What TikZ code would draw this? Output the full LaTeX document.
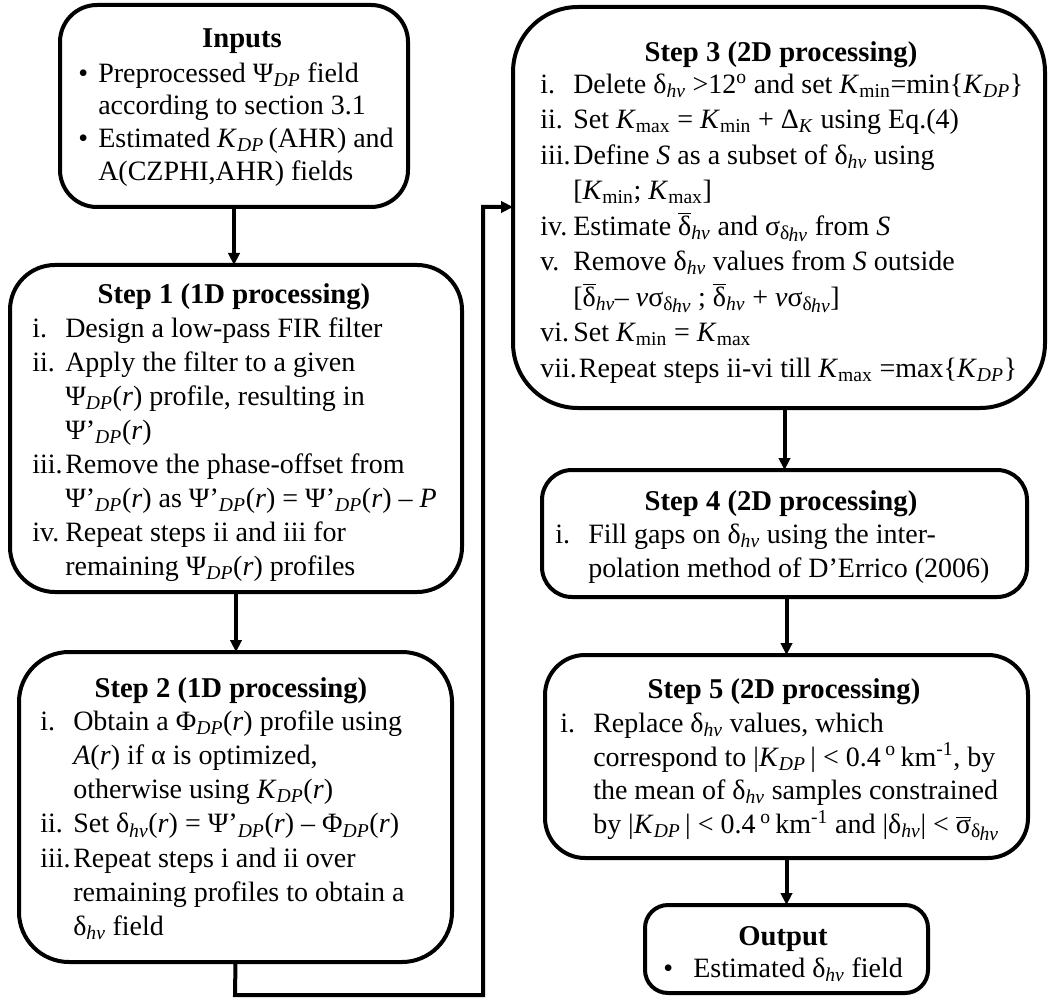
\documentclass[tikz,border=0pt]{standalone}
\usepackage{fontspec}
\setmainfont{Liberation Serif}
\usetikzlibrary{arrows.meta}
\newcommand\sbi[1]{\textsubscript{\textit{#1}}}
\newcommand\dhv{δ\sbi{hv}}
\newcommand\Pdp{Ψ\sbi{DP}}
\newcommand\Ppdp{Ψ’\sbi{DP}}
\newcommand\Fdp{Φ\sbi{DP}}
\newcommand\rr{(\textit{r})}
\newcommand\Kdp{\textit{K}\sbi{DP}}
\newcommand\Ksb[1]{\textit{K}\textsubscript{#1}}
\newcommand\db{$\overline{\mbox{δ}}$\sbi{hv}}
\newcommand\sgd{σ\textsubscript{δ\kern-0.5pt\raisebox{-2pt}{\textit{hv}}}}
\newcommand\dg{\textsuperscript{o}}
\newlength\lw \setlength\lw{24.75pt}
\newlength\bw \setlength\bw{15pt}
\newcommand\itm[1]{\makebox[\lw][l]{#1}}
\newcommand\ind{\hspace*{\lw}}
\newcommand\bul{\makebox[\bw][l]{•}}
\newcommand\bind{\hspace*{\bw}}
\newcommand\fst{\rule{0pt}{18pt}}
\newcommand\fz[1]{\fontsize{21}{#1}\selectfont}
\tikzset{
  box/.style={draw, line width=3pt, rounded corners=#1, inner sep=0pt, outer sep=0pt},
  ttl/.style={font=\fontsize{21.5}{24}\selectfont\bfseries, anchor=base, inner sep=0pt},
  body/.style={font=\fz{#1}, anchor=north west, inner sep=0pt, align=left},
  arr/.style={line width=3pt, -{Triangle[length=9pt,width=8.5pt]}},
  conn/.style={line width=3pt}
}
\begin{document}
\begin{tikzpicture}[x=0.75pt, y=-0.75pt]
\useasboundingbox (0,0) rectangle (1048,998);
% boxes
\node[box=27.75pt, minimum width=261pt, minimum height=151.5pt] (n0) at (234,106) {};
\node[box=33.75pt, minimum width=339pt, minimum height=245.25pt] (n1) at (236,428.5) {};
\node[box=37.5pt, minimum width=324.75pt, minimum height=232.5pt] (n2) at (235.5,807) {};
\node[box=48.75pt, minimum width=399pt, minimum height=300.75pt] (n3) at (779,207.5) {};
\node[box=22.5pt, minimum width=363.75pt, minimum height=95.25pt] (n4) at (784.5,533.5) {};
\node[box=30pt, minimum width=362.25pt, minimum height=152.25pt] (n5) at (786.5,756.5) {};
\node[box=17.25pt, minimum width=212.25pt, minimum height=66pt] (n6) at (786.5,949) {};
% titles
\node[ttl] (t0) at (242,48) {Inputs};
\node[ttl] (t1) at (234,303) {Step 1 (1D processing)};
\node[ttl] (t2) at (231,697) {Step 2 (1D processing)};
\node[ttl] (t3) at (781,62) {Step 3 (2D processing)};
\node[ttl] (t4) at (781,510) {Step 4 (2D processing)};
\node[ttl] (t5) at (784,698) {Step 5 (2D processing)};
\node[ttl] (t6) at (783,945) {Output};
% bodies
\node[body=24.5pt] (b0) at (78,58) {\fst\bul Preprocessed \Pdp{} field\\
\bind according to section 3.1\\
\bul Estimated \Kdp\,(AHR) and\\
\bind A(CZPHI,AHR) fields};
\node[body=25.5pt] (b1) at (32,313) {\fst\itm{i.}Design a low-pass FIR filter\\
\itm{ii.}Apply the filter to a given\\
\ind\Pdp\rr{} profile, resulting in\\
\ind\Ppdp\rr\\
\itm{iii.}Remove the phase-offset from\\
\ind\Ppdp\rr{} as \Ppdp\rr{} = \Ppdp\rr{} – \textit{P}\\
\itm{iv.}Repeat steps ii and iii for\\
\ind remaining \Pdp\rr{} profiles};
\node[body=25.65pt] (b2) at (40,706) {\fst\itm{i.}Obtain a \Fdp\rr{} profile using\\
\ind\textit{A}\rr{} if α is optimized,\\
\ind otherwise using \Kdp\rr\\
\itm{ii.}Set \dhv\rr{} = \Ppdp\rr{} – \Fdp\rr\\
\itm{iii.}Repeat steps i and ii over\\
\ind remaining profiles to obtain a\\
\ind\dhv{} field};
\node[body=26.6pt] (b3) at (540,69) {\fst\itm{i.}Delete \dhv{} >12\dg{} and set \Ksb{min}=min\{\Kdp\}\\
\itm{ii.}Set \Ksb{max} = \Ksb{min} + Δ\sbi{K} using Eq.(4)\\
\itm{iii.}Define \textit{S} as a subset of \dhv{} using\\
\ind[\Ksb{min}; \Ksb{max}]\\
\itm{iv.}Estimate \db{} and \sgd{} from \textit{S}\\
\itm{v.}Remove \dhv{} values from \textit{S} outside\\
\ind[\db– \textit{v}\sgd{} ; \db{} + \textit{v}\sgd]\\
\itm{vi.}Set \Ksb{min} = \Ksb{max}\\
vii.\kern1.5pt Repeat steps ii-vi till \Ksb{max} =max\{\Kdp\}};
\node[body=25.5pt] (b4) at (555,519) {\fst\itm{i.}Fill gaps on \dhv{} using the inter-\\
\ind polation method of D’Errico (2006)};
\node[body=25.3pt] (b5) at (560,708) {\fst\itm{i.}Replace \dhv{} values, which\\
\ind correspond to |\Kdp\,| < 0.4\,\dg\,km\textsuperscript{-1}, by\\
\ind the mean of \dhv{} samples constrained\\
\ind by |\Kdp\,| < 0.4\,\dg\,km\textsuperscript{-1} and |\dhv| < $\overline{\mbox{σ}}$\textsubscript{δ\kern-0.5pt\raisebox{-2pt}{\textit{hv}}}};
\node[body=24pt] (b6) at (663,953) {\fst\makebox[22.5pt][l]{•}Estimated \dhv{} field};
% connectors
\draw[arr] (n0.south) -- (n0.south |- n1.north);
\draw[arr] (n1.south) -- (n1.south |- n2.north);
\coordinate (ca) at (235,995);
\coordinate (cb) at (483,995);
\coordinate (cc) at (483,207);
\draw[arr] (n2.south) -- (ca) -- (cb) -- (cc) -- (cc -| n3.west);
\draw[arr] (n4.north |- n3.south) -- (n4.north);
\draw[arr] (n5.north |- n4.south) -- (n5.north);
\draw[arr] (n5.south) -- (n6.north);
\end{tikzpicture}
\end{document}
